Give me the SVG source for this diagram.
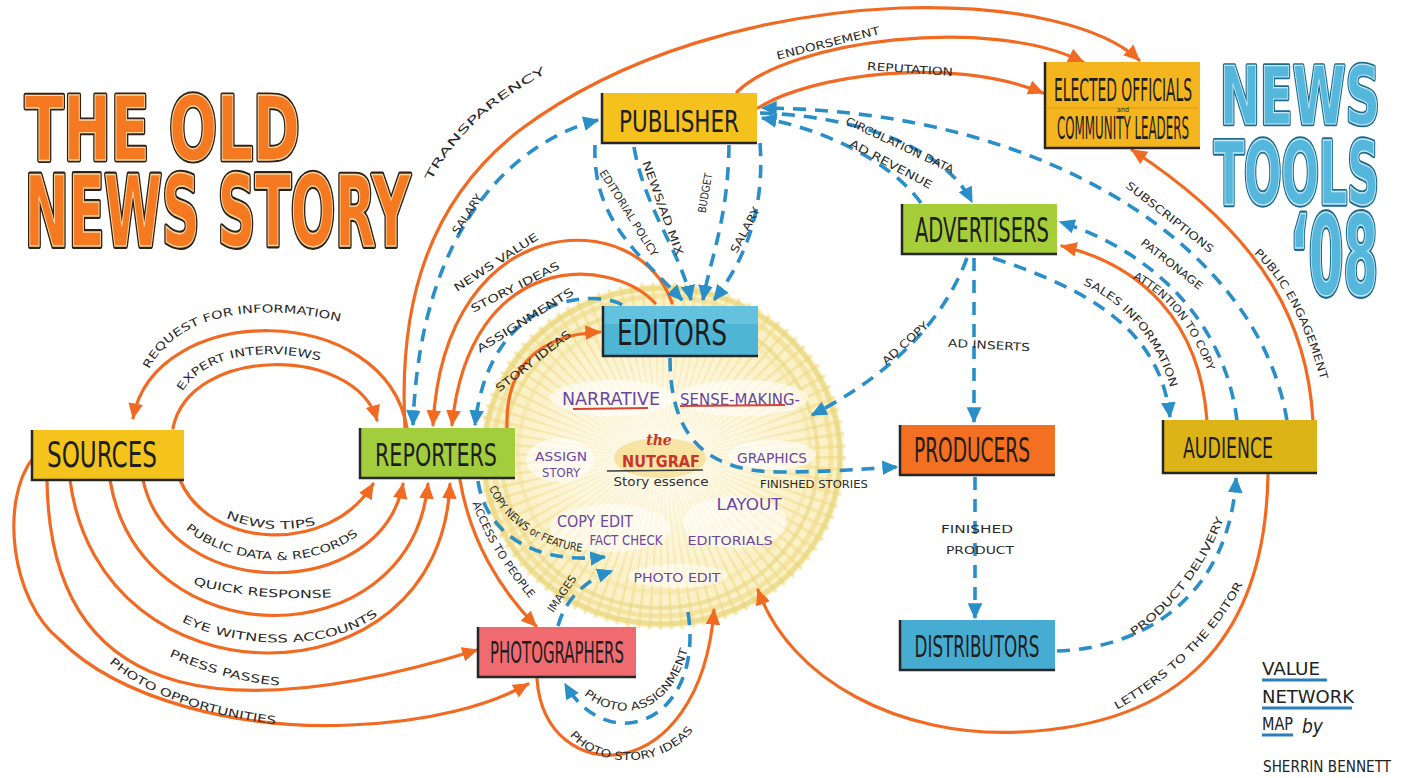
<svg xmlns="http://www.w3.org/2000/svg" width="1405" height="778" viewBox="0 0 1405 778">
<style>
.o{fill:none;stroke:#f26a21;stroke-width:3.2;stroke-linecap:round;marker-end:url(#ao)}
.b{fill:none;stroke:#2a8fc8;stroke-width:3.6;stroke-dasharray:13 9;marker-end:url(#ab)}
.edge{fill:none;stroke:#262626;stroke-width:2.5}
.nt{font-family:"DejaVu Sans Condensed","Liberation Sans Narrow","Liberation Sans",sans-serif;fill:#1e1e1e;text-anchor:middle}
.lb{font-family:"DejaVu Sans Condensed","Liberation Sans Narrow","Liberation Sans",sans-serif;fill:#2b2b2b;font-size:11px}
.pu{font-family:"DejaVu Sans Condensed","Liberation Sans Narrow","Liberation Sans",sans-serif;fill:#6a46a3}
.title{font-family:"DejaVu Sans Condensed","Liberation Sans Narrow","Liberation Sans",sans-serif;font-weight:bold}
.sig{font-family:"DejaVu Sans Condensed","Liberation Sans Narrow","Liberation Sans",sans-serif;fill:#222}
.to{fill:#f47920;stroke:#2e2118;stroke-width:3.5;stroke-linejoin:round}
.ti{fill:#f47920;stroke:#fcd9a0;stroke-width:0.9}
.tb{fill:#55b7dc;stroke:#1b6a8f;stroke-width:3;stroke-linejoin:round}
.tbi{fill:#55b7dc;stroke:#c4e8f6;stroke-width:0.8}
</style>
<defs>
<marker id="ao" viewBox="0 0 12 12" refX="11" refY="6" markerWidth="16" markerHeight="16" markerUnits="userSpaceOnUse" orient="auto"><path d="M0,0.5 L12,6 L0,11.5 z" fill="#f26a21"/></marker>
<marker id="ab" viewBox="0 0 12 12" refX="11" refY="6" markerWidth="16" markerHeight="16" markerUnits="userSpaceOnUse" orient="auto"><path d="M0,0.5 L12,6 L0,11.5 z" fill="#2a8fc8"/></marker>
<marker id="abs" viewBox="0 0 12 12" refX="11" refY="6" markerWidth="16" markerHeight="16" markerUnits="userSpaceOnUse" orient="auto-start-reverse"><path d="M0,0.5 L12,6 L0,11.5 z" fill="#2a8fc8"/></marker>
<clipPath id="circ"><ellipse cx="662" cy="456" rx="184" ry="174"/></clipPath>
<radialGradient id="glow" cx="0.5" cy="0.5" r="0.5"><stop offset="0" stop-color="#ffffff" stop-opacity="0.8"/><stop offset="0.6" stop-color="#ffffff" stop-opacity="0.35"/><stop offset="1" stop-color="#ffffff" stop-opacity="0"/></radialGradient>
<path id="lp-trans" d="M428,188 C450,140 492,100 553,70"/>
<path id="lp-req" d="M147,374 C170,318 250,298 345,323"/>
<path id="lp-exp" d="M180,396 C200,355 265,345 325,362"/>
<path id="lp-tips" d="M224,517 Q270,537 318,524"/>
<path id="lp-pub" d="M182,526 C225,565 310,575 362,532"/>
<path id="lp-quick" d="M191,584 Q260,602 334,597"/>
<path id="lp-eye" d="M177,619 C230,648 330,655 382,612"/>
<path id="lp-press" d="M167,655 Q220,680 282,686"/>
<path id="lp-photo" d="M106,660 C140,692 200,715 280,725"/>
<path id="lp-access" d="M470,495 C483,540 510,575 535,605"/>
<path id="lp-copy" d="M488,485 C500,520 540,548 585,552"/>
<path id="lp-images" d="M552,615 L578,577"/>
<path id="lp-passign" d="M583,694 C615,722 670,720 688,648"/>
<path id="lp-pstory" d="M568,733 C595,770 665,770 695,728"/>
<path id="lp-letters" d="M1113,712 C1165,683 1215,640 1245,580"/>
<path id="lp-product" d="M1128,640 C1170,612 1205,572 1226,512"/>
<path id="lp-sales" d="M1076,282 C1120,298 1160,340 1172,395"/>
<path id="lp-attn" d="M1132,278 C1160,292 1190,320 1208,372"/>
<path id="lp-pubeng" d="M1250,250 C1282,278 1305,322 1322,385"/>
</defs>

<rect width="1405" height="778" fill="#ffffff"/>

<!-- central value zone -->
<g id="nutgraf-zone">
<ellipse cx="662" cy="456" rx="182" ry="172" fill="#fbf1c8"/>
<g clip-path="url(#circ)">
<ellipse cx="662" cy="456" rx="112" ry="102" fill="none" stroke="#f1dc88" stroke-width="160" stroke-dasharray="2 5" opacity="0.6"/>
</g>
<ellipse cx="662" cy="456" rx="178" ry="168" fill="none" stroke="#e8d57c" stroke-width="5" opacity="0.75"/>
<ellipse cx="662" cy="456" rx="169" ry="160" fill="none" stroke="#efdc8c" stroke-width="5" opacity="0.65"/>
<ellipse cx="660" cy="458" rx="158" ry="150" fill="none" stroke="#e8d57c" stroke-width="4" opacity="0.55"/>
<ellipse cx="664" cy="454" rx="146" ry="138" fill="none" stroke="#f2e19a" stroke-width="4" opacity="0.5"/>
<ellipse cx="662" cy="456" rx="150" ry="130" fill="url(#glow)"/>
<ellipse cx="612" cy="398" rx="62" ry="18" fill="#ffffff" opacity="0.6"/>
<ellipse cx="742" cy="398" rx="66" ry="18" fill="#ffffff" opacity="0.6"/>
<ellipse cx="560" cy="460" rx="34" ry="22" fill="#ffffff" opacity="0.6"/>
<ellipse cx="772" cy="455" rx="44" ry="15" fill="#ffffff" opacity="0.6"/>
<ellipse cx="610" cy="528" rx="60" ry="24" fill="#ffffff" opacity="0.55"/>
<ellipse cx="735" cy="522" rx="52" ry="26" fill="#ffffff" opacity="0.55"/>
<ellipse cx="678" cy="576" rx="50" ry="12" fill="#ffffff" opacity="0.55"/>
<ellipse cx="660" cy="458" rx="46" ry="20" fill="#f4cd5a" opacity="0.5"/>
</g>

<!-- connectors -->
<g id="connectors">
<path class="o" d="M405,428 C398,300 430,200 520,130 C620,55 760,14 900,8 C1020,4 1105,28 1139,60"/>
<path class="o" d="M737,92 C790,40 990,15 1083,62"/>
<path class="o" d="M758,108 C810,75 950,55 1043,93"/>
<path class="o" d="M1313,421 C1308,330 1270,240 1132,150"/>
<path class="o" d="M1207,421 C1200,320 1140,265 1062,246"/>
<path class="o" d="M1268,475 C1265,640 1180,725 1020,732 C900,738 790,680 758,590"/>
<path class="o" d="M537,679 C545,790 700,790 714,610"/>
<path class="o" d="M460,480 C470,540 500,590 536,626"/>
<path class="o" d="M407,428 C385,300 155,300 133,418"/>
<path class="o" d="M173,428 C190,345 355,345 377,420"/>
<path class="o" d="M180,480 C210,550 330,555 373,484"/>
<path class="o" d="M143,480 C170,603 380,603 403,484"/>
<path class="o" d="M110,480 C140,660 410,660 428,484"/>
<path class="o" d="M70,480 C100,710 440,710 450,484"/>
<path class="o" d="M47,480 C50,720 250,720 477,650"/>
<path class="o" d="M33,458 C0,500 10,600 60,640 C120,700 240,730 350,725 C430,722 490,705 528,684"/>
<path class="o" d="M672,303 C640,205 445,205 433,425"/>
<path class="o" d="M655,303 C610,255 470,250 452,425"/>
<path class="o" d="M507,428 C505,370 535,335 600,332"/>

<path class="b" marker-start="url(#abs)" d="M598,120 C520,140 420,220 413,425"/>
<path class="b" d="M622,305 C600,290 490,290 475,425"/>
<path class="b" d="M595,145 C592,220 640,255 682,300"/>
<path class="b" d="M634,147 C645,210 680,250 691,300"/>
<path class="b" d="M729,145 C728,220 710,260 703,300"/>
<path class="b" d="M760,143 C765,210 745,260 714,300"/>
<path class="b" d="M760,113 C840,115 940,140 972,202"/>
<path class="b" d="M921,203 C890,160 820,128 762,118"/>
<path class="b" d="M1287,421 C1260,250 1050,110 762,108"/>
<path class="b" d="M1237,421 C1225,320 1150,250 1060,222"/>
<path class="b" d="M993,258 C1090,290 1160,330 1170,417"/>
<path class="b" d="M974,258 L974,422"/>
<path class="b" d="M967,258 C940,330 880,380 812,415"/>
<path class="b" d="M670,358 C670,430 700,472 780,472 C830,472 860,469 897,467"/>
<path class="b" d="M975,477 L975,618"/>
<path class="b" d="M1057,651 C1150,648 1230,590 1236,478"/>
<path class="b" d="M478,481 C485,530 530,565 605,557"/>
<path class="b" d="M558,626 C565,600 585,580 612,571"/>
<path class="b" d="M688,612 C705,720 610,760 565,684"/>
</g>

<!-- connector labels -->
<g id="connector-labels">
<text class="lb" font-size="13"><textPath href="#lp-trans" startOffset="50%" text-anchor="middle" textLength="160" lengthAdjust="spacingAndGlyphs">TRANSPARENCY</textPath></text>
<text class="lb"><textPath href="#lp-req" startOffset="50%" text-anchor="middle" textLength="212" lengthAdjust="spacingAndGlyphs">REQUEST FOR INFORMATION</textPath></text>
<text class="lb"><textPath href="#lp-exp" startOffset="50%" text-anchor="middle" textLength="150" lengthAdjust="spacingAndGlyphs">EXPERT INTERVIEWS</textPath></text>
<text class="lb"><textPath href="#lp-tips" startOffset="50%" text-anchor="middle" textLength="92" lengthAdjust="spacingAndGlyphs">NEWS TIPS</textPath></text>
<text class="lb"><textPath href="#lp-pub" startOffset="50%" text-anchor="middle" textLength="185" lengthAdjust="spacingAndGlyphs">PUBLIC DATA &amp; RECORDS</textPath></text>
<text class="lb"><textPath href="#lp-quick" startOffset="50%" text-anchor="middle" textLength="140" lengthAdjust="spacingAndGlyphs">QUICK RESPONSE</textPath></text>
<text class="lb"><textPath href="#lp-eye" startOffset="50%" text-anchor="middle" textLength="205" lengthAdjust="spacingAndGlyphs">EYE WITNESS ACCOUNTS</textPath></text>
<text class="lb"><textPath href="#lp-press" startOffset="50%" text-anchor="middle" textLength="115" lengthAdjust="spacingAndGlyphs">PRESS PASSES</textPath></text>
<text class="lb"><textPath href="#lp-photo" startOffset="50%" text-anchor="middle" textLength="180" lengthAdjust="spacingAndGlyphs">PHOTO OPPORTUNITIES</textPath></text>
<text class="lb" font-size="10"><textPath href="#lp-access" startOffset="50%" text-anchor="middle" textLength="112" lengthAdjust="spacingAndGlyphs">ACCESS TO PEOPLE</textPath></text>
<text class="lb" font-size="9"><textPath href="#lp-copy" startOffset="50%" text-anchor="middle" textLength="118" lengthAdjust="spacingAndGlyphs">COPY NEWS or FEATURE</textPath></text>
<text class="lb" font-size="10"><textPath href="#lp-images" startOffset="50%" text-anchor="middle" textLength="42" lengthAdjust="spacingAndGlyphs">IMAGES</textPath></text>
<text class="lb"><textPath href="#lp-passign" startOffset="50%" text-anchor="middle" textLength="140" lengthAdjust="spacingAndGlyphs">PHOTO ASSIGNMENT</textPath></text>
<text class="lb"><textPath href="#lp-pstory" startOffset="50%" text-anchor="middle" textLength="140" lengthAdjust="spacingAndGlyphs">PHOTO STORY IDEAS</textPath></text>
<text class="lb"><textPath href="#lp-letters" startOffset="50%" text-anchor="middle" textLength="180" lengthAdjust="spacingAndGlyphs">LETTERS TO THE EDITOR</textPath></text>
<text class="lb" font-size="12"><textPath href="#lp-product" startOffset="50%" text-anchor="middle" textLength="150" lengthAdjust="spacingAndGlyphs">PRODUCT DELIVERY</textPath></text>
<text class="lb" font-size="10"><textPath href="#lp-sales" startOffset="50%" text-anchor="middle" textLength="140" lengthAdjust="spacingAndGlyphs">SALES INFORMATION</textPath></text>
<text class="lb" font-size="10"><textPath href="#lp-attn" startOffset="50%" text-anchor="middle" textLength="122" lengthAdjust="spacingAndGlyphs">ATTENTION TO COPY</textPath></text>
<text class="lb" font-size="10"><textPath href="#lp-pubeng" startOffset="50%" text-anchor="middle" textLength="145" lengthAdjust="spacingAndGlyphs">PUBLIC ENGAGEMENT</textPath></text>

<text class="lb" font-size="10" text-anchor="middle" y="4" transform="translate(467,214) rotate(-57)" textLength="45" lengthAdjust="spacingAndGlyphs">SALARY</text>
<text class="lb" text-anchor="middle" y="4" transform="translate(496,262) rotate(-33)" textLength="98" lengthAdjust="spacingAndGlyphs">NEWS VALUE</text>
<text class="lb" text-anchor="middle" y="4" transform="translate(515,287) rotate(-27)" textLength="98" lengthAdjust="spacingAndGlyphs">STORY IDEAS</text>
<text class="lb" text-anchor="middle" y="4" transform="translate(525,320) rotate(-32)" textLength="112" lengthAdjust="spacingAndGlyphs">ASSIGNMENTS</text>
<text class="lb" text-anchor="middle" y="4" transform="translate(533,361) rotate(-38)" textLength="92" lengthAdjust="spacingAndGlyphs">STORY IDEAS</text>
<text class="lb" font-size="10" text-anchor="middle" y="4" transform="translate(629,213) rotate(58)" textLength="100" lengthAdjust="spacingAndGlyphs">EDITORIAL POLICY</text>
<text class="lb" font-size="10" text-anchor="middle" y="4" transform="translate(663,208) rotate(70)" textLength="100" lengthAdjust="spacingAndGlyphs">NEWS/AD MIX</text>
<text class="lb" font-size="10" text-anchor="middle" y="4" transform="translate(705,193) rotate(-80)" textLength="40" lengthAdjust="spacingAndGlyphs">BUDGET</text>
<text class="lb" font-size="10" text-anchor="middle" y="4" transform="translate(745,230) rotate(-62)" textLength="50" lengthAdjust="spacingAndGlyphs">SALARY</text>
<text class="lb" font-size="10" text-anchor="middle" y="4" transform="translate(900,145) rotate(25)" textLength="118" lengthAdjust="spacingAndGlyphs">CIRCULATION DATA</text>
<text class="lb" text-anchor="middle" y="4" transform="translate(891,164) rotate(28)" textLength="92" lengthAdjust="spacingAndGlyphs">AD REVENUE</text>
<text class="lb" text-anchor="middle" y="4" transform="translate(828,43) rotate(-14)" textLength="106" lengthAdjust="spacingAndGlyphs">ENDORSEMENT</text>
<text class="lb" text-anchor="middle" y="4" transform="translate(910,69) rotate(4)" textLength="86" lengthAdjust="spacingAndGlyphs">REPUTATION</text>
<text class="lb" text-anchor="middle" y="4" transform="translate(1170,217) rotate(38)" textLength="108" lengthAdjust="spacingAndGlyphs">SUBSCRIPTIONS</text>
<text class="lb" text-anchor="middle" y="4" transform="translate(1172,264) rotate(38)" textLength="75" lengthAdjust="spacingAndGlyphs">PATRONAGE</text>
<text class="lb" text-anchor="middle" y="4" transform="translate(905,343) rotate(-42)" textLength="58" lengthAdjust="spacingAndGlyphs">AD COPY</text>
<text class="lb" text-anchor="middle" y="4" transform="translate(989,345) rotate(3)" textLength="82" lengthAdjust="spacingAndGlyphs">AD INSERTS</text>
<text class="lb" font-size="10" x="814" y="488" text-anchor="middle" textLength="108" lengthAdjust="spacingAndGlyphs">FINISHED STORIES</text>
<text class="lb" font-size="13" x="977" y="533" text-anchor="middle" textLength="72" lengthAdjust="spacingAndGlyphs">FINISHED</text>
<text class="lb" font-size="13" x="980" y="554" text-anchor="middle" textLength="68" lengthAdjust="spacingAndGlyphs">PRODUCT</text>
</g>

<!-- content inside the nutgraf zone -->
<g id="nutgraf-text">
<text class="pu" x="611" y="405" font-size="18" text-anchor="middle" textLength="98" lengthAdjust="spacingAndGlyphs">NARRATIVE</text>
<line x1="573" y1="409" x2="648" y2="408" stroke="#d9432f" stroke-width="2"/>
<text class="pu" x="740" y="405" font-size="16" text-anchor="middle" textLength="120" lengthAdjust="spacingAndGlyphs">SENSE-MAKING-</text>
<line x1="680" y1="406" x2="785" y2="405" stroke="#d9432f" stroke-width="2"/>
<text class="pu" x="561" y="461" font-size="13" text-anchor="middle" textLength="52" lengthAdjust="spacingAndGlyphs">ASSIGN</text>
<text class="pu" x="561" y="477" font-size="12" text-anchor="middle" textLength="38" lengthAdjust="spacingAndGlyphs">STORY</text>
<text x="659" y="445" font-size="14" text-anchor="middle" fill="#c8352a" font-family="'DejaVu Serif','Liberation Serif',serif" font-style="italic" font-weight="bold">the</text>
<text x="661" y="467" font-size="15" text-anchor="middle" fill="#c8352a" font-family="'DejaVu Sans Condensed','Liberation Sans Narrow',sans-serif" font-weight="bold" textLength="78" lengthAdjust="spacingAndGlyphs">NUTGRAF</text>
<line x1="607" y1="471" x2="703" y2="470" stroke="#3a3a3a" stroke-width="1.5"/>
<text x="661" y="486" font-size="13" text-anchor="middle" fill="#333" font-family="'DejaVu Sans Condensed','Liberation Sans Narrow',sans-serif" textLength="95" lengthAdjust="spacingAndGlyphs">Story essence</text>
<text class="pu" x="772" y="463" font-size="14" text-anchor="middle" textLength="70" lengthAdjust="spacingAndGlyphs">GRAPHICS</text>
<text class="pu" x="749" y="510" font-size="15" text-anchor="middle" textLength="65" lengthAdjust="spacingAndGlyphs">LAYOUT</text>
<text class="pu" x="595" y="527" font-size="15" text-anchor="middle" textLength="76" lengthAdjust="spacingAndGlyphs">COPY EDIT</text>
<text class="pu" x="626" y="545" font-size="14" text-anchor="middle" textLength="73" lengthAdjust="spacingAndGlyphs">FACT CHECK</text>
<text class="pu" x="730" y="545" font-size="13" text-anchor="middle" textLength="85" lengthAdjust="spacingAndGlyphs">EDITORIALS</text>
<text class="pu" x="677" y="582" font-size="13" text-anchor="middle" textLength="87" lengthAdjust="spacingAndGlyphs">PHOTO EDIT</text>
</g>

<!-- nodes -->
<g id="node-publisher">
<rect x="602" y="93" width="155" height="50" fill="#f5c11c"/>
<path class="edge" d="M602,93 L602,143 L757,143"/>
<text class="nt" transform="translate(679,132) scale(1,1.26)" font-size="24" textLength="120" lengthAdjust="spacingAndGlyphs">PUBLISHER</text>
</g>
<g id="node-elected-officials">
<rect x="1045" y="62" width="155" height="86" fill="#f4b51f"/>
<path class="edge" d="M1045,62 L1045,148 L1200,148"/>
<line x1="1047" y1="108" x2="1198" y2="108" stroke="#d99a10" stroke-width="1"/>
<text class="nt" transform="translate(1123,101) scale(1,2.1)" font-size="15.4" textLength="138" lengthAdjust="spacingAndGlyphs">ELECTED OFFICIALS</text>
<text class="nt" x="1123" y="112" font-size="7">and</text>
<text class="nt" transform="translate(1123,139) scale(1,2.35)" font-size="13.2" textLength="132" lengthAdjust="spacingAndGlyphs">COMMUNITY LEADERS</text>
</g>
<g id="node-advertisers">
<rect x="902" y="204" width="155" height="50" fill="#a6ce39"/>
<path class="edge" d="M902,204 L902,254 L1057,254"/>
<text class="nt" transform="translate(982,242) scale(1,1.54)" font-size="21.4" textLength="134" lengthAdjust="spacingAndGlyphs">ADVERTISERS</text>
</g>
<g id="node-editors">
<rect x="603" y="306" width="155" height="50" fill="#4fb5d5"/>
<rect x="603" y="306" width="155" height="18" fill="#6ec7e2" opacity="0.7"/>
<path class="edge" d="M603,306 L603,356 L758,356"/>
<text class="nt" transform="translate(672,345) scale(1,1.29)" font-size="27.6" textLength="110" lengthAdjust="spacingAndGlyphs">EDITORS</text>
</g>
<g id="node-sources">
<rect x="32" y="430" width="152" height="50" fill="#f4c41d"/>
<path class="edge" d="M32,430 L32,480 L184,480"/>
<text class="nt" transform="translate(102,467) scale(1,1.4)" font-size="25.4" textLength="110" lengthAdjust="spacingAndGlyphs">SOURCES</text>
</g>
<g id="node-reporters">
<rect x="360" y="428" width="155" height="50" fill="#a2cd3c"/>
<path class="edge" d="M360,428 L360,478 L515,478"/>
<text class="nt" transform="translate(436,466) scale(1,1.45)" font-size="22.6" textLength="122" lengthAdjust="spacingAndGlyphs">REPORTERS</text>
</g>
<g id="node-producers">
<rect x="900" y="425" width="155" height="50" fill="#f36f21"/>
<path class="edge" d="M900,425 L900,475 L1055,475"/>
<text class="nt" transform="translate(972,462) scale(1,1.6)" font-size="20.6" textLength="116" lengthAdjust="spacingAndGlyphs">PRODUCERS</text>
</g>
<g id="node-audience">
<rect x="1163" y="420" width="154" height="53" fill="#dcb417"/>
<path class="edge" d="M1163,420 L1163,473 L1317,473"/>
<text class="nt" transform="translate(1228,458) scale(1,1.49)" font-size="19.3" textLength="90" lengthAdjust="spacingAndGlyphs">AUDIENCE</text>
</g>
<g id="node-distributors">
<rect x="900" y="620" width="155" height="50" fill="#46acd2"/>
<path class="edge" d="M900,620 L900,670 L1055,670"/>
<text class="nt" transform="translate(977,657) scale(1,1.61)" font-size="18.7" textLength="125" lengthAdjust="spacingAndGlyphs">DISTRIBUTORS</text>
</g>
<g id="node-photographers">
<rect x="478" y="627" width="158" height="50" fill="#f06b70"/>
<path class="edge" d="M478,627 L478,677 L636,677"/>
<text class="nt" transform="translate(557,663) scale(1,1.83)" font-size="16.5" textLength="134" lengthAdjust="spacingAndGlyphs">PHOTOGRAPHERS</text>
</g>

<!-- titles -->
<g id="title-old-news-story">
<text class="title to" transform="translate(25,160) scale(1,1.42)" font-size="62.8" textLength="275" lengthAdjust="spacingAndGlyphs">THE OLD</text>
<text class="title ti" transform="translate(25,160) scale(1,1.42)" font-size="62.8" textLength="275" lengthAdjust="spacingAndGlyphs">THE OLD</text>
<text class="title to" transform="translate(25,246) scale(1,1.69)" font-size="57.5" textLength="385" lengthAdjust="spacingAndGlyphs">NEWS STORY</text>
<text class="title ti" transform="translate(25,246) scale(1,1.69)" font-size="57.5" textLength="385" lengthAdjust="spacingAndGlyphs">NEWS STORY</text>
</g>
<g id="title-news-tools">
<text class="title tb" transform="translate(1220,124) scale(1,1.52)" font-size="53" textLength="160" lengthAdjust="spacingAndGlyphs">NEWS</text>
<text class="title tbi" transform="translate(1220,124) scale(1,1.52)" font-size="53" textLength="160" lengthAdjust="spacingAndGlyphs">NEWS</text>
<text class="title tb" transform="translate(1214,204) scale(1,1.79)" font-size="49" textLength="165" lengthAdjust="spacingAndGlyphs">TOOLS</text>
<text class="title tbi" transform="translate(1214,204) scale(1,1.79)" font-size="49" textLength="165" lengthAdjust="spacingAndGlyphs">TOOLS</text>
<text class="title tb" transform="translate(1290,294) scale(1,1.96)" font-size="56" textLength="88" lengthAdjust="spacingAndGlyphs">‘08</text>
<text class="title tbi" transform="translate(1290,294) scale(1,1.96)" font-size="56" textLength="88" lengthAdjust="spacingAndGlyphs">‘08</text>
</g>

<!-- signature -->
<g id="signature">
<text class="sig" x="1262" y="675" font-size="18" textLength="58" lengthAdjust="spacingAndGlyphs">VALUE</text>
<line x1="1262" y1="680" x2="1327" y2="680" stroke="#2b7fb8" stroke-width="3"/>
<text class="sig" x="1262" y="703" font-size="18" textLength="92" lengthAdjust="spacingAndGlyphs">NETWORK</text>
<line x1="1262" y1="708" x2="1352" y2="708" stroke="#2b7fb8" stroke-width="3"/>
<text class="sig" x="1262" y="730" font-size="18" textLength="31" lengthAdjust="spacingAndGlyphs">MAP</text>
<text class="sig" x="1302" y="733" font-size="19" font-family="'DejaVu Serif','Liberation Serif',serif" font-style="italic">by</text>
<line x1="1262" y1="735" x2="1293" y2="735" stroke="#2b7fb8" stroke-width="3"/>
<text class="sig" x="1263" y="772" font-size="16" textLength="128" lengthAdjust="spacingAndGlyphs">SHERRIN BENNETT</text>
</g>
</svg>
